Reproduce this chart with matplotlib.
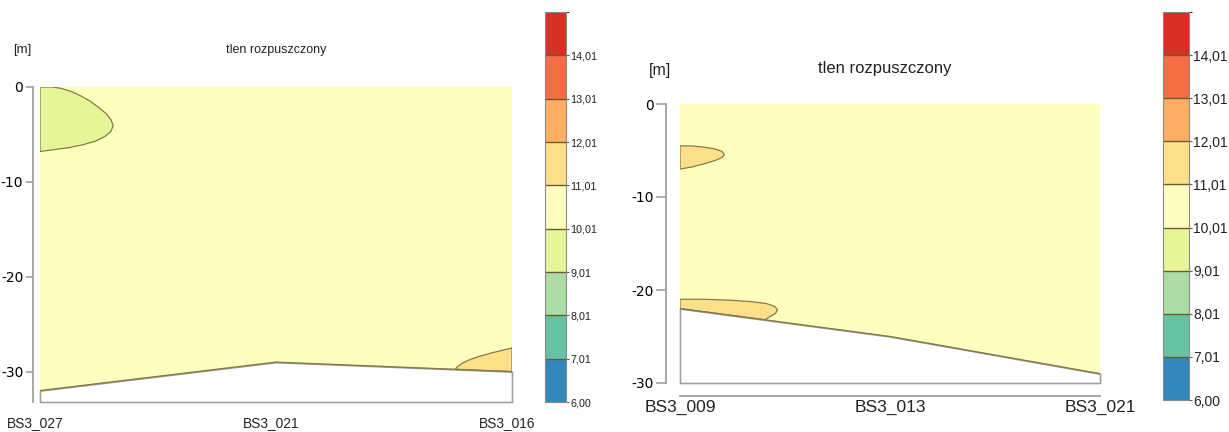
import numpy as np
import matplotlib
matplotlib.use("Agg")
import matplotlib.pyplot as plt
from matplotlib import font_manager
from matplotlib.colors import ListedColormap, BoundaryNorm
from matplotlib.cm import ScalarMappable
import matplotlib.transforms as mtransforms

plt.rcParams['axes.unicode_minus'] = False

# fonts: narrow one for the left panel if present, regular for the right one
def have_font(name):
    try:
        font_manager.findfont(name, fallback_to_default=False)
        return True
    except Exception:
        return False

HAS_NARROW = have_font('Liberation Sans Narrow')
NARROW = 'Liberation Sans Narrow' if HAS_NARROW else 'Liberation Sans'
K = 1.0 if HAS_NARROW else 0.86   # shrink sizes when no narrow face
REG = 'Liberation Sans'

# colour classes (dissolved oxygen)
levels = [6.00, 7.01, 8.01, 9.01, 10.01, 11.01, 12.01, 13.01, 14.01, 15.01]
level_labels = ['6,00', '7,01', '8,01', '9,01', '10,01', '11,01', '12,01', '13,01', '14,01']
class_colors = ['#3288bd', '#66c2a5', '#abdda4', '#e6f598', '#ffffbf',
                '#fee08b', '#fdae61', '#f46d43', '#d73027']

# left transect
stations_l = ['BS3_027', 'BS3_021', 'BS3_016']
pos_l = [0.0, 0.5, 1.0]
bottom_l = [-32.0, -29.0, -30.0]
depth_min_l = -33.2
background_l = 10.5
# green zone near the surface at BS3_027
green_l_x = [0.028, 0.045, 0.065, 0.085, 0.105, 0.123, 0.140, 0.151, 0.155, 0.150,
             0.138, 0.118, 0.090, 0.060, 0.030, 0.0, 0.0]
green_l_y = [0.0, -0.15, -0.45, -0.9, -1.45, -2.1, -2.8, -3.5, -4.1, -4.7,
             -5.2, -5.7, -6.1, -6.4, -6.6, -6.8, 0.0]
green_l_val = 9.5
# orange zone near the bottom at BS3_016
orange_l_x = [0.879, 0.885, 0.895, 0.910, 0.930, 0.955, 0.980, 1.0, 1.0]
orange_l_y = [-29.76, -29.45, -29.1, -28.75, -28.4, -28.05, -27.75, -27.5, -30.0]
orange_l_val = 11.5

# right transect
stations_r = ['BS3_009', 'BS3_013', 'BS3_021']
pos_r = [0.0, 0.5, 1.0]
bottom_r = [-22.0, -25.0, -29.0]
depth_min_r = -30.0
background_r = 10.5
orange_r1_x = [0.0, 0.030, 0.060, 0.085, 0.100, 0.106, 0.100, 0.085, 0.060, 0.030, 0.0]
orange_r1_y = [-4.5, -4.52, -4.65, -4.85, -5.1, -5.45, -5.75, -6.05, -6.4, -6.75, -7.0]
orange_r2_x = [0.0, 0.060, 0.120, 0.170, 0.205, 0.225, 0.232, 0.228, 0.215, 0.202, 0.0]
orange_r2_y = [-21.0, -21.0, -21.1, -21.25, -21.45, -21.75, -22.1, -22.5, -22.85, -23.2, -22.0]
orange_r_val = 11.5

cmap = ListedColormap(class_colors)
norm = BoundaryNorm(levels, cmap.N)

W, H = 1229, 432
fig = plt.figure(figsize=(W / 100, H / 100), dpi=100)

def px_axes(x0, x1, y0, y1):
    return fig.add_axes([x0 / W, 1 - y1 / H, (x1 - x0) / W, (y1 - y0) / H])

LINE = '#857c45'
GRAY = '#a0a0a0'
TXT = '#222222'


def draw_section(ax, pos, bottom, dmin, bg, zones, font, fs_tick):
    ax.set_xlim(pos[0], pos[-1])
    ax.set_ylim(dmin, 0)
    ax.fill_between(pos, 0, bottom, facecolor=cmap(norm(bg)), edgecolor='none', zorder=1)
    for zx, zy, val in zones:
        ax.fill(zx, zy, facecolor=cmap(norm(val)), edgecolor=LINE, lw=0.9, zorder=2)
    ax.fill_between(pos, bottom, dmin, facecolor='white', edgecolor=GRAY, lw=1.2,
                    zorder=3, clip_on=False)
    ax.plot(pos, bottom, color=LINE, lw=1.0, zorder=4)
    for s in ['top', 'right']:
        ax.spines[s].set_visible(False)
    ax.spines['left'].set_color(GRAY)
    ax.spines['left'].set_linewidth(1.3)
    ax.set_yticks([0, -10, -20, -30])
    ax.set_yticklabels(['0', '-10', '-20', '-30'], fontfamily=font, fontsize=fs_tick,
                       color=TXT)
    ax.tick_params(axis='y', color=GRAY, width=1.2)
    ax.set_facecolor('none')


# ---------- left panel ----------
axl = px_axes(40, 512, 87, 402)
draw_section(axl, pos_l, bottom_l, depth_min_l, background_l,
             [(green_l_x, green_l_y, green_l_val),
              (orange_l_x, orange_l_y, orange_l_val)],
             NARROW, 11 * K)
axl.spines['left'].set_position(('outward', 5))
axl.spines['bottom'].set_visible(False)
axl.tick_params(axis='y', length=5, pad=2)
axl.set_xticks(pos_l)
axl.set_xticklabels(stations_l, fontfamily=NARROW, fontsize=11.5 * K, color=TXT)
axl.tick_params(axis='x', length=0, pad=10)
shift = mtransforms.ScaledTranslation(-5 / 100, 0, fig.dpi_scale_trans)
for lab in axl.get_xticklabels():
    lab.set_transform(lab.get_transform() + shift)
fig.text(276 / W, 1 - 50 / H, 'tlen rozpuszczony', fontfamily=NARROW, fontsize=10.5 * K,
         ha='center', va='center', color=TXT)
fig.text(22 / W, 1 - 50 / H, '[m]', fontfamily=NARROW, fontsize=11 * K,
         ha='center', va='center', color=TXT)

# ---------- right panel ----------
axr = px_axes(680, 1100, 104, 383)
draw_section(axr, pos_r, bottom_r, depth_min_r, background_r,
             [(orange_r1_x, orange_r1_y, orange_r_val),
              (orange_r2_x, orange_r2_y, orange_r_val)],
             REG, 11.5)
axr.spines['left'].set_position(('outward', 10))
axr.spines['bottom'].set_position(('outward', 9))
axr.spines['bottom'].set_color(GRAY)
axr.spines['bottom'].set_linewidth(1.3)
axr.tick_params(axis='y', length=7, pad=2)
axr.set_xticks(pos_r)
axr.set_xticklabels(stations_r, fontfamily=REG, fontsize=12.5, color=TXT)
axr.tick_params(axis='x', length=0, pad=3)
fig.text(885 / W, 1 - 68 / H, 'tlen rozpuszczony', fontfamily=REG, fontsize=12,
         ha='center', va='center', color=TXT)
fig.text(660 / W, 1 - 71 / H, '[m]', fontfamily=REG, fontsize=11.5,
         ha='center', va='center', color=TXT)


# ---------- colour bars ----------
def draw_bar(cax, font, fs):
    sm = ScalarMappable(norm=norm, cmap=cmap)
    cb = fig.colorbar(sm, cax=cax, ticks=levels[:-1], drawedges=True, spacing='uniform')
    cb.ax.set_yticklabels(level_labels, fontfamily=font, fontsize=fs, color=TXT)
    cb.outline.set_edgecolor('#8a8a8a')
    cb.outline.set_linewidth(0.8)
    cb.dividers.set_color('#6b5a30')
    cb.dividers.set_linewidth(1.0)
    cb.ax.tick_params(length=2, width=0.8, color='#6b5a30', pad=1)
    return cb

draw_bar(px_axes(545, 566, 12, 402), NARROW, 9 * K)
draw_bar(px_axes(1163, 1189, 12, 400), REG, 10)

fig.savefig('out.png', dpi=100, facecolor='white')
